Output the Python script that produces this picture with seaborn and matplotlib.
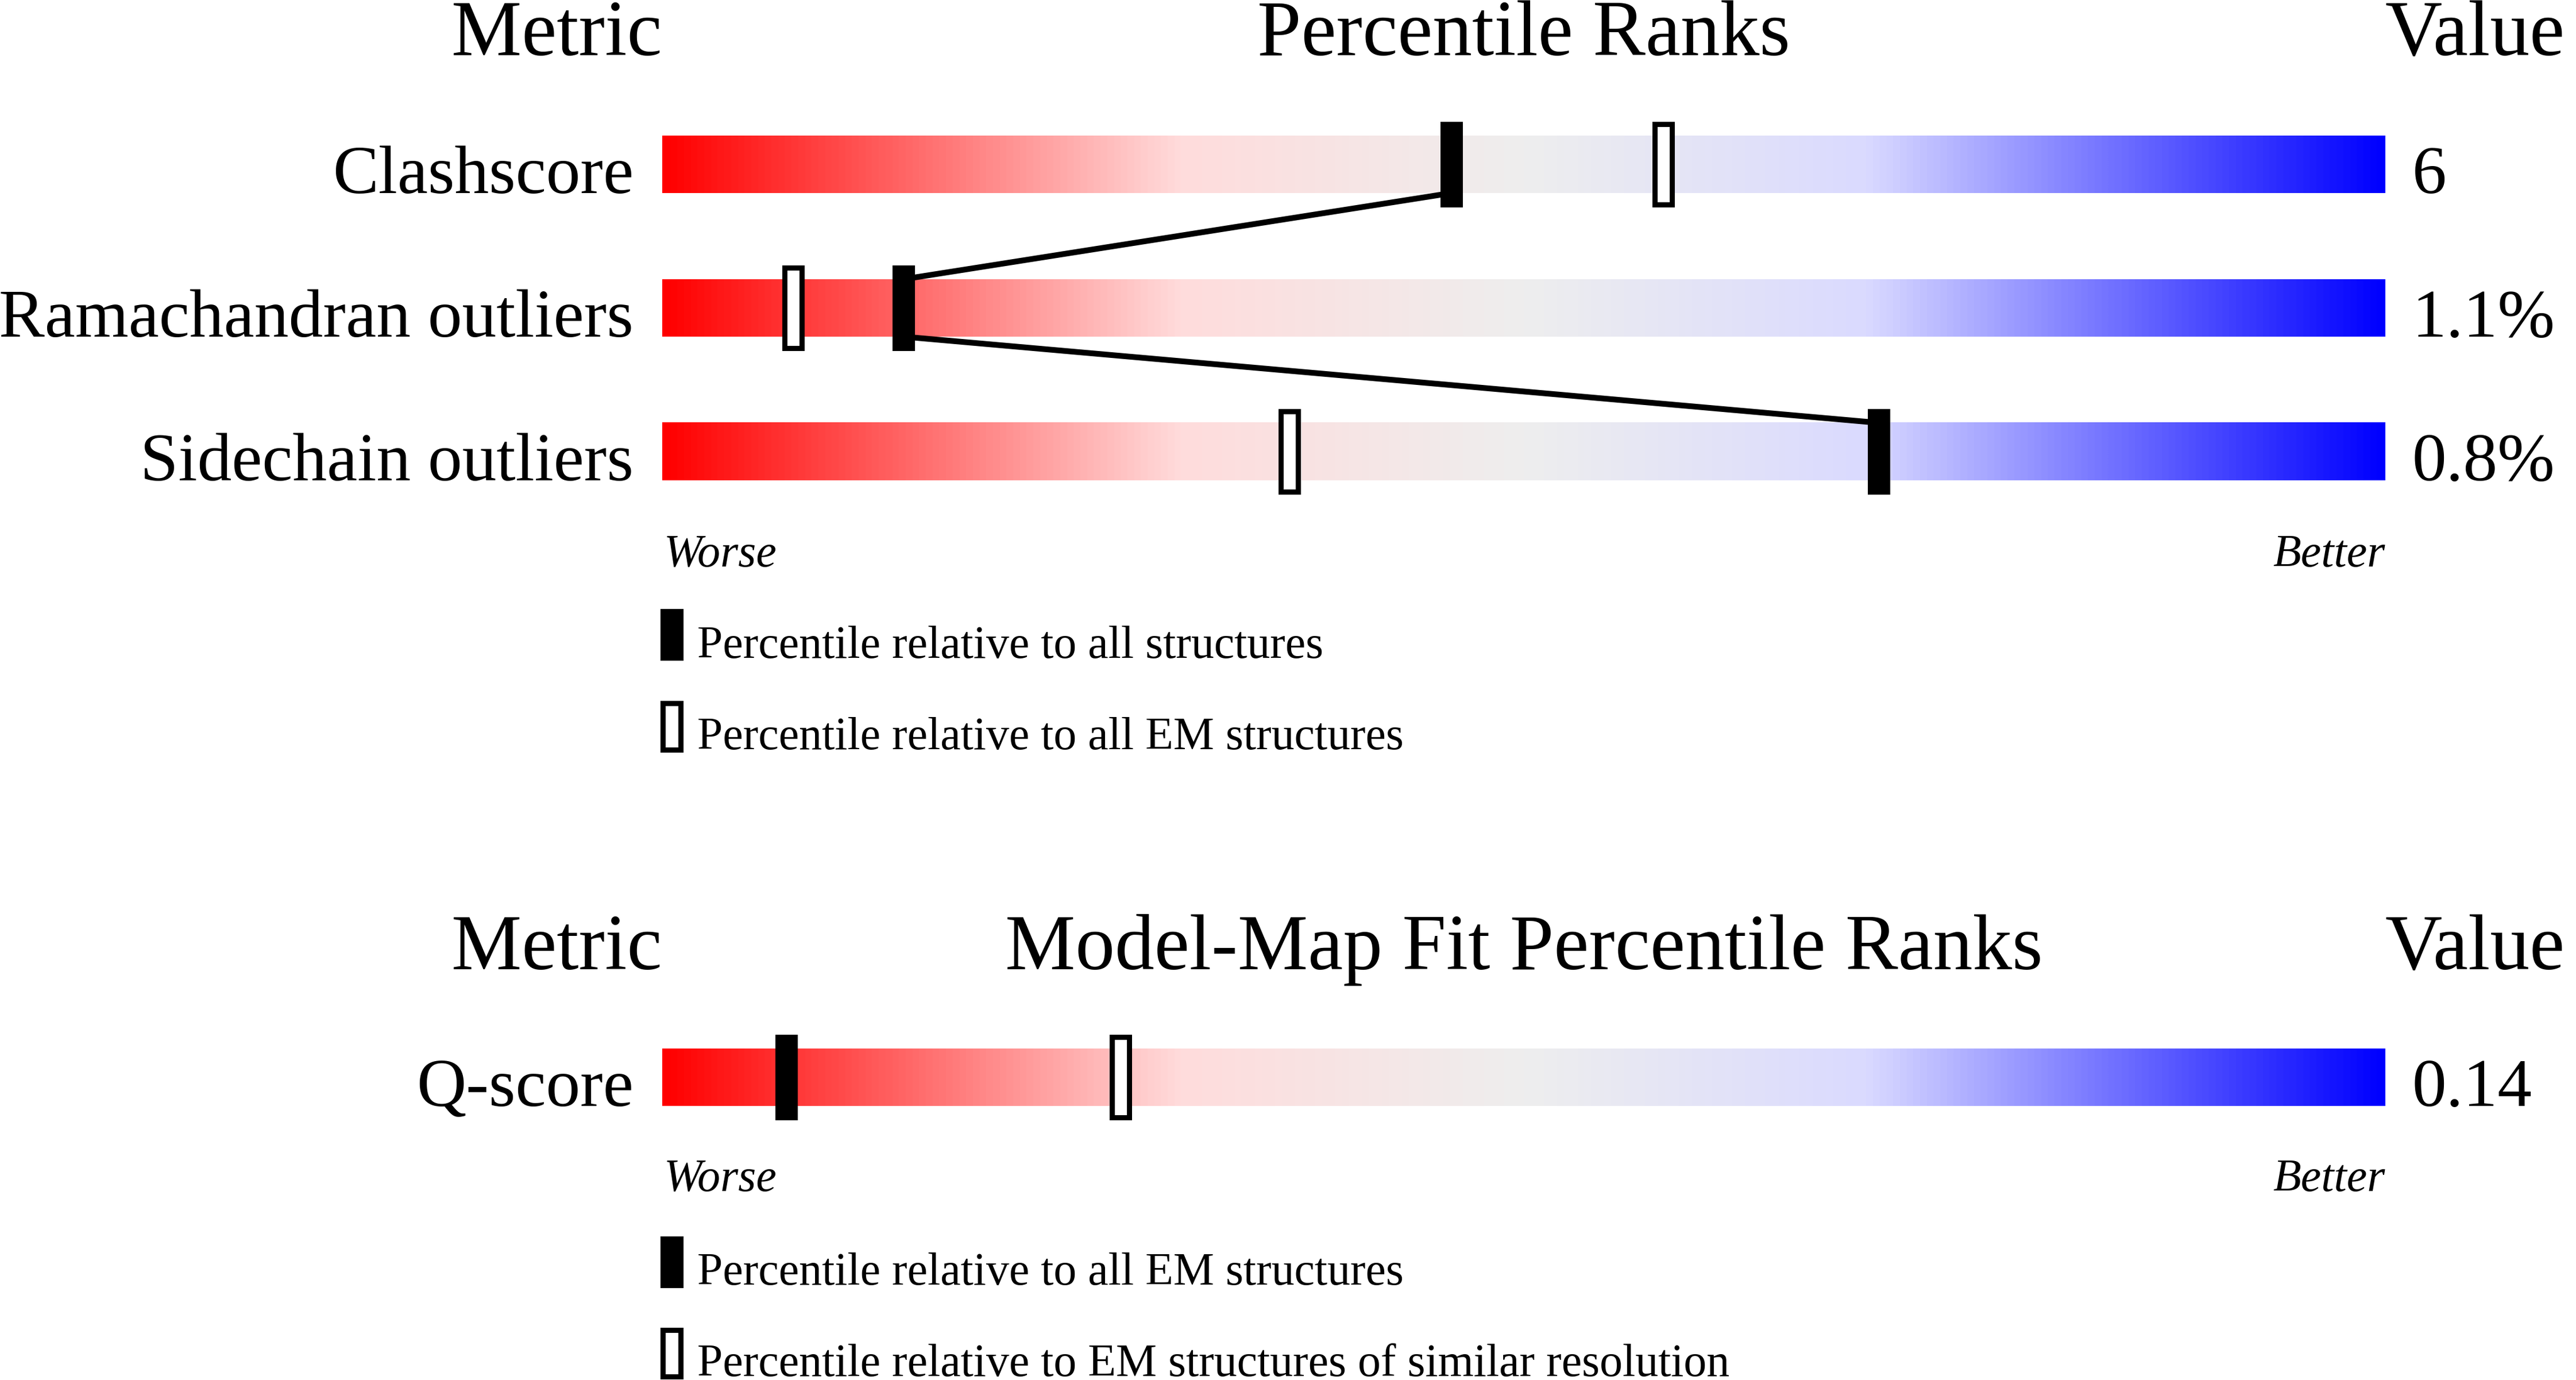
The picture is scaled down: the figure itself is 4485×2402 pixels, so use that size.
import numpy as np
import pandas as pd
import matplotlib
matplotlib.use("Agg")
import matplotlib.pyplot as plt
from matplotlib.colors import LinearSegmentedColormap
from matplotlib.patches import Rectangle
import seaborn as sns

# ---------------- data ----------------
top_metrics = ["Clashscore", "Ramachandran outliers", "Sidechain outliers"]
top_values = ["6", "1.1%", "0.8%"]
top_pct_all = [45.8, 14.0, 70.6]        # percentile relative to all structures (filled)
top_pct_em = [58.1, 7.6, 36.4]          # percentile relative to all EM structures (open)

bottom_metrics = ["Q-score"]
bottom_values = ["0.14"]
bottom_pct_em = [7.2]                   # relative to all EM structures (filled)
bottom_pct_similar = [26.6]             # relative to EM structures of similar resolution (open)

top_title = "Percentile Ranks"
bottom_title = "Model-Map Fit Percentile Ranks"
top_legend = ["Percentile relative to all structures",
              "Percentile relative to all EM structures"]
bottom_legend = ["Percentile relative to all EM structures",
                 "Percentile relative to EM structures of similar resolution"]

# ---------------- style ----------------
sns.set_theme(style="white")
plt.rcParams['font.family'] = ['Liberation Serif', 'DejaVu Serif']
plt.rcParams['text.color'] = 'black'

W, H = 4485, 2402
DPI = 100
fig = plt.figure(figsize=(W / DPI, H / DPI), dpi=DPI)
fig.patch.set_facecolor("white")

def fx(x):
    return x / W

def fy(y):
    return 1 - y / H

cmap = LinearSegmentedColormap.from_list(
    "slider",
    [(0.0, "#FF0000"), (0.30, "#FFDCDC"), (0.50, "#EEEEEE"),
     (0.70, "#DADAFF"), (1.0, "#0000FF")])

BAR_L, BAR_R = 1153, 4153
ROW = 250.0
BAR_H = 0.4
MK_H = 0.56
MK_W = 1.0
MK_LW = 9 * 72 / DPI
LINE_LW = 10 * 72 / DPI

HEAD_FS = 99
LAB_FS = 86
SMALL_FS = 57.5

def make_panel(row0_center, metrics, values, pct_fill, pct_open, connect):
    n = len(metrics)
    top = row0_center - ROW / 2
    bottom = top + n * ROW
    ax = fig.add_axes([fx(BAR_L), fy(bottom), (BAR_R - BAR_L) / W, (bottom - top) / H])
    grad = np.linspace(0, 1, 512).reshape(1, -1)
    for i in range(n):
        ax.imshow(grad, cmap=cmap, aspect="auto", interpolation="bilinear",
                  extent=[0, 100, i + BAR_H / 2, i - BAR_H / 2], zorder=1)
    if connect and n > 1:
        xs, ys = [], []
        for i in range(n):
            if i > 0:
                xs.append(pct_fill[i]); ys.append(i - BAR_H / 2)
            if i < n - 1:
                xs.append(pct_fill[i]); ys.append(i + BAR_H / 2)
        df = pd.DataFrame({"x": xs, "y": ys})
        sns.lineplot(data=df, x="x", y="y", sort=False, estimator=None,
                     color="black", linewidth=LINE_LW, ax=ax, zorder=2, legend=False)
    for i in range(n):
        for p, fc in ((pct_fill[i], "black"), (pct_open[i], "white")):
            ax.add_patch(Rectangle((p - MK_W / 2, i - MK_H / 2), MK_W, MK_H,
                                   facecolor=fc, edgecolor="black", lw=MK_LW,
                                   joinstyle="miter", zorder=3, clip_on=False))
    ax.set_xlim(0, 100)
    ax.set_ylim(n - 0.5, -0.5)
    ax.axis("off")
    for i in range(n):
        ybase = row0_center + (i + BAR_H / 2) * ROW
        fig.text(fx(1103), fy(ybase), metrics[i], ha="right", va="baseline",
                 fontsize=LAB_FS, color="black")
        fig.text(fx(4200), fy(ybase), values[i], ha="left", va="baseline",
                 fontsize=LAB_FS, color="black")
    return ax

def headers(ybase, title):
    fig.text(fx(1153), fy(ybase), "Metric", ha="right", va="baseline", fontsize=HEAD_FS)
    fig.text(fx((BAR_L + BAR_R) / 2), fy(ybase), title, ha="center", va="baseline", fontsize=HEAD_FS)
    fig.text(fx(4153), fy(ybase), "Value", ha="left", va="baseline", fontsize=HEAD_FS)

def worse_better(ybase):
    fig.text(fx(1156), fy(ybase), "Worse", ha="left", va="baseline",
             fontsize=SMALL_FS, style="italic")
    fig.text(fx(4153), fy(ybase), "Better", ha="right", va="baseline",
             fontsize=SMALL_FS, style="italic")

def legend(y1, texts):
    for k, (txt, fc) in enumerate(zip(texts, ("black", "white"))):
        yt = y1 + k * 159
        fig.patches.append(Rectangle((fx(1153.5), fy(yt + 85.5)), 31 / W, 81 / H,
                                     transform=fig.transFigure, facecolor=fc,
                                     edgecolor="black", lw=MK_LW, joinstyle="miter"))
        fig.text(fx(1214), fy(yt + 85), txt, ha="left", va="baseline", fontsize=SMALL_FS)

# top panel
headers(96, top_title)
make_panel(286, top_metrics, top_values, top_pct_all, top_pct_em, connect=True)
worse_better(986)
legend(1060, top_legend)

# bottom panel
headers(1687, bottom_title)
make_panel(1875, bottom_metrics, bottom_values, bottom_pct_em, bottom_pct_similar, connect=False)
worse_better(2073)
legend(2151, bottom_legend)

fig.savefig("out.png", dpi=DPI, facecolor="white")
